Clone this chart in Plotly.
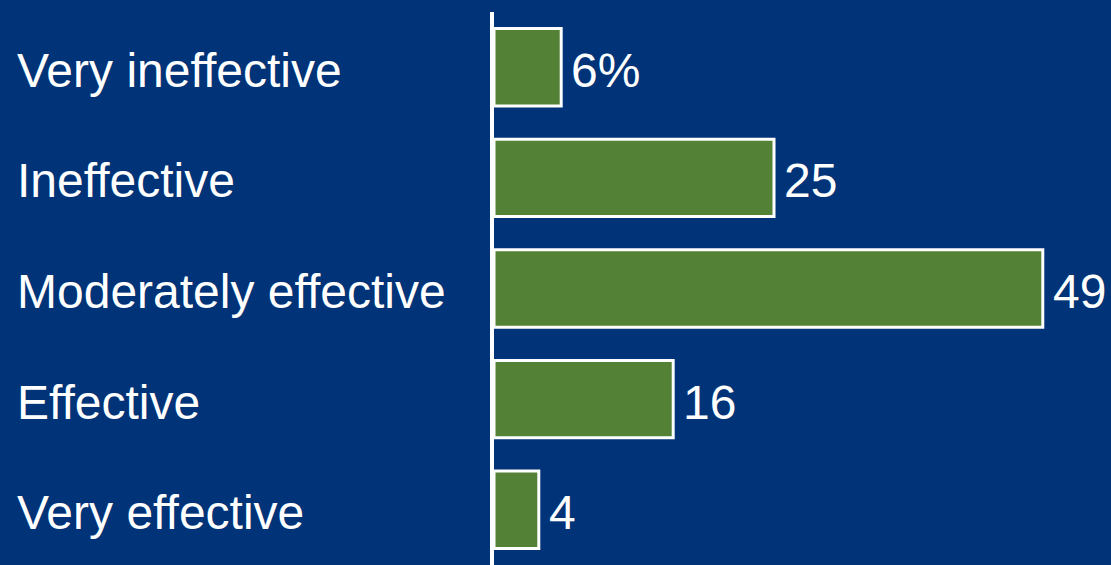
import plotly.graph_objects as go

categories = ["Very ineffective", "Ineffective", "Moderately effective", "Effective", "Very effective"]
values = [6, 25, 49, 16, 4]
value_labels = ["6%", "25", "49", "16", "4"]

BG = "#003377"
GREEN = "#538135"
FONT = "Liberation Sans, Arial, sans-serif"

fig = go.Figure()
fig.add_trace(go.Bar(
    y=categories,
    x=values,
    orientation="h",
    width=0.7,
    marker=dict(color=GREEN, line=dict(color="white", width=3)),
    hoverinfo="skip",
))

for c, v, t in zip(categories, values, value_labels):
    fig.add_annotation(
        x=0, xref="paper", y=c, yref="y",
        text=c, showarrow=False, xanchor="left", yanchor="middle",
        xshift=-479, yshift=-3,
        font=dict(color="white", size=48, family=FONT),
    )
    fig.add_annotation(
        x=v, xref="x", y=c, yref="y",
        text=t, showarrow=False, xanchor="left", yanchor="middle",
        xshift=8, yshift=-3,
        font=dict(color="white", size=48, family=FONT),
    )

fig.update_layout(
    width=1111, height=565,
    margin=dict(l=494, r=0, t=12, b=0),
    paper_bgcolor=BG, plot_bgcolor=BG,
    showlegend=False,
    xaxis=dict(range=[0, 55.09], visible=False, fixedrange=True),
    yaxis=dict(
        type="category", categoryorder="array", categoryarray=categories,
        range=[4.5, -0.5], showticklabels=False, ticks="",
        showgrid=False, zeroline=False,
        showline=True, linecolor="white", linewidth=4,
    ),
)

fig.write_html("out.html")
